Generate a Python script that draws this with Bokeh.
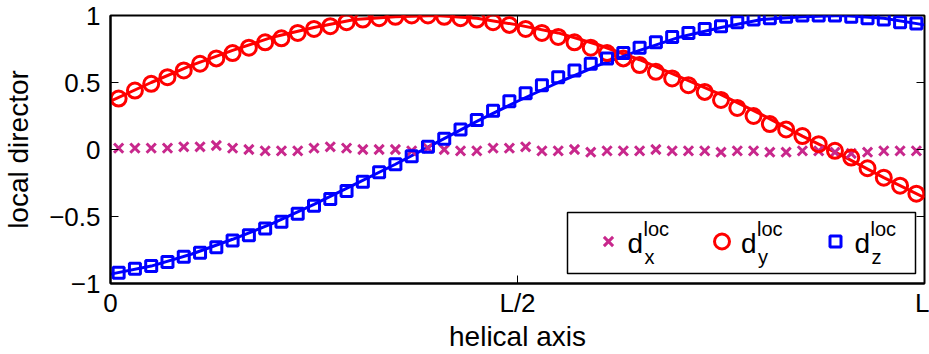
from bokeh.plotting import figure
from bokeh.models import Range1d, FixedTicker, LinearAxis, Label, BoxAnnotation
from bokeh.embed import file_html
from bokeh.resources import INLINE

# ---------------- data ----------------
x_markers = [0.01, 0.03, 0.05, 0.07, 0.09, 0.11, 0.13, 0.15, 0.17, 0.19,
             0.21, 0.23, 0.25, 0.27, 0.29, 0.31, 0.33, 0.35, 0.37, 0.39,
             0.41, 0.43, 0.45, 0.47, 0.49, 0.51, 0.53, 0.55, 0.57, 0.59,
             0.61, 0.63, 0.65, 0.67, 0.69, 0.71, 0.73, 0.75, 0.77, 0.79,
             0.81, 0.83, 0.85, 0.87, 0.89, 0.91, 0.93, 0.95, 0.97, 0.99]

dx_markers = [0.01, 0.01, 0.01, 0.01, 0.02, 0.02, 0.03, 0.01, 0.00, -0.01,
              -0.01, -0.01, 0.01, 0.02, 0.01, 0.00, 0.00, 0.00, -0.01, 0.01,
              0.00, -0.01, -0.01, 0.01, 0.01, 0.02, -0.01, -0.01, 0.00, -0.02,
              -0.01, -0.01, -0.01, 0.00, -0.01, -0.01, -0.01, -0.02, -0.01, -0.01,
              -0.02, -0.02, -0.01, -0.01, -0.02, -0.03, -0.02, -0.01, -0.01, -0.01]

dy_markers = [0.38, 0.44, 0.49, 0.54, 0.59, 0.64, 0.68, 0.72, 0.76, 0.80,
              0.83, 0.87, 0.90, 0.92, 0.95, 0.97, 0.98, 0.99, 1.00, 1.00,
              0.99, 0.98, 0.97, 0.95, 0.93, 0.90, 0.87, 0.84, 0.80, 0.76,
              0.72, 0.68, 0.63, 0.58, 0.53, 0.48, 0.43, 0.37, 0.31, 0.25,
              0.19, 0.15, 0.10, 0.04, -0.01, -0.06, -0.14, -0.21, -0.27, -0.33]

dz_markers = [-0.92, -0.89, -0.87, -0.84, -0.80, -0.77, -0.73, -0.68, -0.64, -0.59,
              -0.54, -0.48, -0.42, -0.37, -0.31, -0.24, -0.17, -0.11, -0.05, 0.02,
              0.08, 0.15, 0.22, 0.29, 0.36, 0.42, 0.48, 0.54, 0.59, 0.64,
              0.68, 0.72, 0.76, 0.80, 0.84, 0.87, 0.90, 0.92, 0.95, 0.97,
              0.98, 0.99, 1.00, 1.00, 1.00, 0.99, 0.98, 0.97, 0.95, 0.94]

x_line = [0.00, 0.05, 0.10, 0.15, 0.20, 0.25, 0.30, 0.35, 0.40, 0.45, 0.50,
          0.55, 0.60, 0.65, 0.70, 0.75, 0.80, 0.85, 0.90, 0.95, 1.00]
dy_line = [0.36, 0.50, 0.63, 0.74, 0.84, 0.91, 0.97, 0.99, 1.00, 0.98, 0.93,
           0.87, 0.78, 0.67, 0.54, 0.41, 0.26, 0.10, -0.05, -0.21, -0.36]
dz_line = [-0.93, -0.87, -0.78, -0.67, -0.55, -0.41, -0.26, -0.11, 0.05, 0.21, 0.36,
           0.50, 0.63, 0.74, 0.84, 0.91, 0.97, 0.99, 1.00, 0.98, 0.93]

x_ticks = [0, 0.5, 1]
x_tick_labels = ["0", "L/2", "L"]
y_ticks = [-1, -0.5, 0, 0.5, 1]
y_tick_labels = ["\u22121", "\u22120.5", "0", "0.5", "1"]

legend_subscripts = ["x", "y", "z"]

# ---------------- styling ----------------
FONT = "Liberation Sans"
MAGENTA = "#c8288c"
RED = "#ff0000"
BLUE = "#0000ff"

p = figure(frame_width=814, frame_height=268,
           x_range=Range1d(0, 1), y_range=Range1d(-1, 1),
           output_backend="svg", toolbar_location=None,
           min_border_left=110, min_border_right=5,
           min_border_top=15, min_border_bottom=71)
p.grid.visible = False
p.outline_line_color = "black"
p.outline_line_width = 2
p.background_fill_color = "white"
p.border_fill_color = "white"

X_STYLE = dict(marker="x", size=13, line_color=MAGENTA, line_width=3)
O_STYLE = dict(marker="circle", size=15, fill_color=None, line_color=RED, line_width=3)
S_STYLE = dict(marker="square", size=11, fill_color=None, line_color=BLUE, line_width=3)

# data glyphs
p.line(x_line, dy_line, line_color=RED, line_width=3)
p.line(x_line, dz_line, line_color=BLUE, line_width=3)
p.scatter(x_markers, dx_markers, **X_STYLE)
p.scatter(x_markers, dy_markers, **O_STYLE)
p.scatter(x_markers, dz_markers, **S_STYLE)

# axes
xa = p.xaxis[0]
xa.ticker = FixedTicker(ticks=x_ticks)
xa.major_label_overrides = dict(zip(x_ticks, x_tick_labels))
xa.axis_label = "helical axis"
ya = p.yaxis[0]
ya.ticker = FixedTicker(ticks=y_ticks)
ya.major_label_overrides = dict(zip(y_ticks, y_tick_labels))
ya.axis_label = "local director"
for ax in (xa, ya):
    ax.major_tick_in = 8
    ax.major_tick_out = 0
    ax.minor_tick_line_color = None
    ax.axis_line_width = 2
    ax.major_tick_line_width = 1
    ax.major_label_text_font = FONT
    ax.major_label_text_font_size = "26px"
    ax.major_label_text_color = "black"
    ax.axis_label_text_font = FONT
    ax.axis_label_text_font_size = "28px"
    ax.axis_label_text_font_style = "normal"
    ax.axis_label_text_color = "black"
xa.major_label_standoff = 4
xa.axis_label_standoff = 0
ya.major_label_standoff = 10
ya.axis_label_standoff = 12

# tick marks (no labels) on the top and right edges of the box
top = LinearAxis(ticker=FixedTicker(ticks=x_ticks), major_tick_in=8, major_tick_out=0,
                 minor_tick_line_color=None, axis_line_color=None,
                 major_label_overrides={t: "" for t in x_ticks},
                 major_label_text_font_size="1px", major_label_standoff=0)
right = LinearAxis(ticker=FixedTicker(ticks=y_ticks), major_tick_in=8, major_tick_out=0,
                   minor_tick_line_color=None, axis_line_color=None,
                   major_label_overrides={t: "" for t in y_ticks},
                   major_label_text_font_size="1px", major_label_standoff=0)
p.add_layout(top, "above")
p.add_layout(right, "right")

# ---------------- legend (drawn by hand for sub/superscripts) ----------------
px = lambda v: (v - 110) / 814.0          # pixel column -> data x
py = lambda v: (149 - v) / 134.0          # pixel row -> data y

box = BoxAnnotation(left=px(567), right=px(915), top=py(212), bottom=py(273),
                    fill_color="white", fill_alpha=1.0,
                    line_color="black", line_alpha=1.0, line_width=1.5)
p.add_layout(box)

entry_x = [608, 721.5, 835]
styles = [X_STYLE, O_STYLE, S_STYLE]
for ex, st, sub in zip(entry_x, styles, legend_subscripts):
    p.scatter([px(ex)], [py(241)], level="overlay", **st)
    p.add_layout(Label(x=px(ex + 19), y=py(243), text="d", text_font=FONT,
                       text_font_size="28px", text_color="black",
                       text_align="left", text_baseline="alphabetic"))
    p.add_layout(Label(x=px(ex + 35), y=py(228), text="loc", text_font=FONT,
                       text_font_size="20px", text_color="black",
                       text_align="left", text_baseline="alphabetic"))
    p.add_layout(Label(x=px(ex + 36), y=py(256), text=sub, text_font=FONT,
                       text_font_size="20px", text_color="black",
                       text_align="left", text_baseline="alphabetic"))

open("out.html", "w").write(file_html(p, INLINE))
